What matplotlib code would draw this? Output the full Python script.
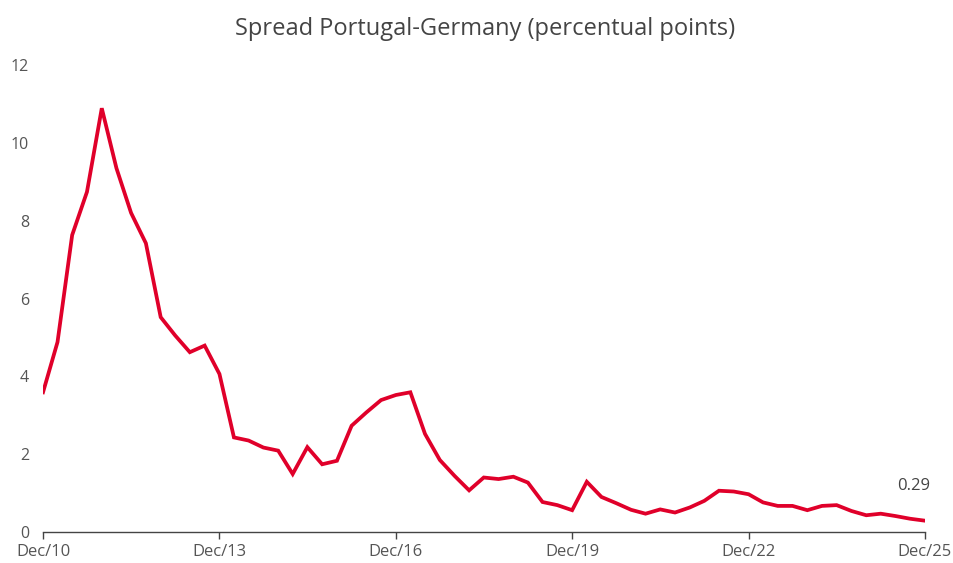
import numpy as np
import pandas as pd
import matplotlib
matplotlib.use("Agg")
import matplotlib.pyplot as plt

# quarterly spread Portugal - Germany 10y (percentual points), Dec/10 .. Dec/25
spread = [3.59, 4.88, 7.63, 8.74, 10.89, 9.35, 8.20, 7.42, 5.52, 5.05,
          4.62, 4.79, 4.06, 2.43, 2.35, 2.17, 2.09, 1.49, 2.18, 1.74,
          1.83, 2.73, 3.07, 3.39, 3.52, 3.59, 2.52, 1.85, 1.44, 1.07,
          1.40, 1.36, 1.42, 1.27, 0.77, 0.69, 0.56, 1.29, 0.90, 0.74,
          0.57, 0.47, 0.58, 0.50, 0.63, 0.80, 1.06, 1.04, 0.97, 0.76,
          0.67, 0.67, 0.56, 0.67, 0.69, 0.54, 0.43, 0.47, 0.41, 0.34,
          0.29]
dates = pd.date_range("2010-12-31", periods=len(spread), freq="QE")
tick_labels = ["Dec/10", "Dec/13", "Dec/16", "Dec/19", "Dec/22", "Dec/25"]
y_ticks = [0, 2, 4, 6, 8, 10, 12]

plt.rcParams["font.family"] = ["Open Sans", "DejaVu Sans"]
red = "#e0002a"
grey = "#555555"

fig = plt.figure(figsize=(9.54, 5.63), dpi=100)
ax = fig.add_axes([0.0451, 0.0551, 0.9245, 0.8294])

ax.plot(dates, spread, color=red, lw=2.7, solid_joinstyle="miter")

ax.set_xlim(dates[0], dates[-1])
ax.set_ylim(0, 12)

ax.set_xticks(dates[::12])
ax.set_xticklabels(tick_labels)
ax.set_yticks(y_ticks)

for s in ["top", "right", "left"]:
    ax.spines[s].set_visible(False)
ax.spines["bottom"].set_color("#444444")
ax.spines["bottom"].set_linewidth(1.0)

ax.tick_params(axis="x", length=5, width=1, color="#444444", labelcolor=grey,
               labelsize=12, pad=4)
ax.tick_params(axis="y", length=0, labelcolor=grey, labelsize=11.5, pad=10)

# last value label
ax.annotate(f"{spread[-1]:.2f}", xy=(dates[-1], spread[-1]), xytext=(-8, 25),
            textcoords="offset points", ha="center", va="center",
            color="#444444", fontsize=12)

fig.suptitle("Spread Portugal-Germany (percentual points)", x=0.508, y=0.97,
             fontsize=17, color="#444444")

fig.savefig("out.png", dpi=100)
